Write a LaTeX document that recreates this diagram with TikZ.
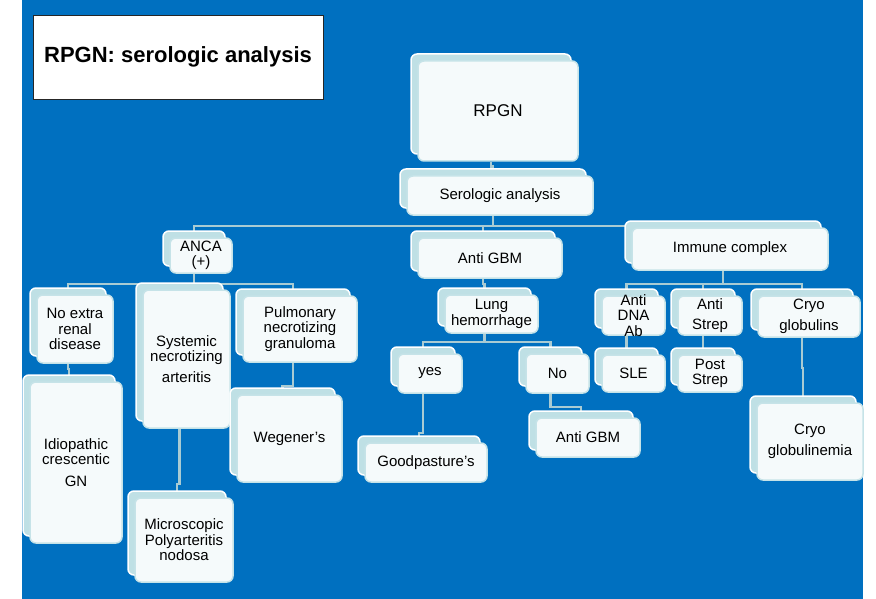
\documentclass[tikz,border=0pt]{standalone}
\usepackage{fontspec}
\setmainfont{Liberation Sans}
\usetikzlibrary{shadows,calc}
\definecolor{slidebg}{HTML}{0070C0}
\definecolor{boxfront}{HTML}{F5FAFB}
\definecolor{boxback}{HTML}{BFE0E5}
\definecolor{boxedge}{HTML}{C6E3E8}
\definecolor{connc}{HTML}{A9CBD3}
\pgfdeclarelayer{bg}
\pgfdeclarelayer{wires}
\pgfsetlayers{bg,wires,main}

\begin{document}
\begin{tikzpicture}[
  x=1pt, y=-1pt,
  box/.style={draw=boxedge, fill=boxfront, line width=1.5pt, rounded corners=6pt, align=center, inner sep=1pt, font=\fontsize{15}{15.5}\selectfont,
    copy shadow={shadow xshift=-7pt, shadow yshift=7pt, fill=boxback, draw=white, line width=1.5pt}},
  lbl/.style={align=center, inner sep=0pt, font=\fontsize{15}{15.5}\selectfont},
  conn/.style={draw=connc, line width=2.5pt},
]
\useasboundingbox (0,0) rectangle (876,599);

\begin{pgfonlayer}{bg}
\fill[white] (0,0) rectangle (876,599);
\fill[slidebg] (22,0) rectangle (863,599);
\end{pgfonlayer}

\node[draw=black!85, fill=white, line width=0.8pt, minimum width=290pt, minimum height=84pt, font=\fontsize{22}{24}\selectfont\bfseries] (title) at (178,57) {RPGN: serologic analysis};

% top
\node[box, minimum width=160pt, minimum height=100pt, font=\fontsize{17}{18}\selectfont] (rpgn) at (498,111) {RPGN};
\node[box, minimum width=186pt, minimum height=39pt] (sero) at (500,195.5) {Serologic analysis};
\node[box, minimum width=62pt, minimum height=35pt] (anca) at (201,255.5) {ANCA\\(+)};
\node[box, minimum width=144pt, minimum height=40pt] (antigbm) at (490,258) {Anti GBM};
\node[box, minimum width=196pt, minimum height=42pt] (immune) at (730,249) {Immune complex};

% ANCA branch
\node[box, minimum width=76pt, minimum height=68pt] (noext) at (75,329) {No extra\\renal\\disease};
\node[box, minimum width=87pt, minimum height=138pt] (systemic) at (186.5,359) {Systemic\\necrotizing\\[5pt]arteritis};
\node[box, minimum width=114pt, minimum height=66pt] (pulm) at (300,329) {Pulmonary\\necrotizing\\granuloma};
\node[box, minimum width=92pt, minimum height=161pt] (idio) at (76,462.5) {Idiopathic\\crescentic\\[6pt]GN};
\node[box, minimum width=105pt, minimum height=87pt] (wegener) at (289.5,438.5) {Wegener’s};
\node[box, minimum width=98pt, minimum height=84pt] (micro) at (184,540) {Microscopic\\Polyarteritis\\nodosa};

% anti GBM branch
\node[box, minimum width=93pt, minimum height=38pt] (lung) at (491.5,314) {Lung\\hemorrhage};
\node[box, minimum width=64pt, minimum height=39pt] (yes) at (430,373.5) {yes};
\node[box, minimum width=63pt, minimum height=39pt] (no) at (557.5,373.5) {No};
\node[box, minimum width=122pt, minimum height=39pt] (goodp) at (426,462.5) {Goodpasture’s};
\node[box, minimum width=104pt, minimum height=39pt] (antigbmb) at (588,437.5) {Anti GBM};

% immune complex branch
\node[box, minimum width=63pt, minimum height=39pt, label={[lbl]center:{Anti\\DNA\\Ab}}] (antidna) at (633.5,315.5) {};
\node[box, minimum width=64pt, minimum height=39pt] (antistrep) at (710,315.5) {Anti\\[5pt]Strep};
\node[box, minimum width=102pt, minimum height=41pt] (cryo) at (809,316.5) {Cryo\\[5pt]globulins};
\node[box, minimum width=63pt, minimum height=37pt] (sle) at (633.5,373.5) {SLE};
\node[box, minimum width=64pt, minimum height=37pt] (poststrep) at (710,373.5) {Post\\Strep};
\node[box, minimum width=106pt, minimum height=77pt] (cryoglob) at (810,441.5) {Cryo\\[6pt]globulinemia};

\begin{pgfonlayer}{wires}
\draw[conn] ([xshift=-7pt]rpgn.south) -- ++(0,5) -| ([xshift=-7pt]sero.north);
\draw[conn] ([xshift=-7pt]sero.south) -- ++(0,10) -| ([xshift=-7pt]anca.north);
\draw[conn] ([xshift=-7pt]sero.south) -- ++(0,10) -| ([xshift=-7pt]antigbm.north);
\draw[conn] ([xshift=-7pt]sero.south) -- ++(0,10) -| ([xshift=-7pt]immune.north);
\draw[conn] ([xshift=-7pt]anca.south) -- ++(0,10) -| ([xshift=-7pt]noext.north);
\draw[conn] ([xshift=-7pt]anca.south) -- ++(0,10) -| ([xshift=-7pt]systemic.north);
\draw[conn] ([xshift=-7pt]anca.south) -- ++(0,10) -| ([xshift=-7pt]pulm.north);
\draw[conn] ([xshift=-7pt]noext.south) -- ++(0,5) -| ([xshift=-7pt]idio.north);
\draw[conn] ([xshift=-7pt]systemic.south) -- ++(0,55) -| ([xshift=-7pt]micro.north);
\draw[conn] ([xshift=-7pt]pulm.south) -- ++(0,23) -| ([xshift=-7pt]wegener.north);
\draw[conn] ([xshift=-7pt]antigbm.south) -- ++(0,5) -| ([xshift=-7pt]lung.north);
\draw[conn] ([xshift=-7pt]lung.south) -- ++(0,8) -| ([xshift=-7pt]yes.north);
\draw[conn] ([xshift=-7pt]lung.south) -- ++(0,8) -| ([xshift=-7pt]no.north);
\draw[conn] ([xshift=-7pt]yes.south) -- ++(0,39) -| ([xshift=-7pt]goodp.north);
\draw[conn] ([xshift=-7pt]no.south) -- ++(0,13) -| ([xshift=-7pt]antigbmb.north);
\draw[conn] ([xshift=-7pt]immune.south) -- ++(0,13) -| ([xshift=-7pt]antidna.north);
\draw[conn] ([xshift=-7pt]immune.south) -- ++(0,13) -| ([xshift=-7pt]antistrep.north);
\draw[conn] ([xshift=-7pt]immune.south) -- ++(0,13) -| ([xshift=-7pt]cryo.north);
\draw[conn] ([xshift=-7pt]antidna.south) -- ++(0,5) -| ([xshift=-7pt]sle.north);
\draw[conn] ([xshift=-7pt]antistrep.south) -- ++(0,5) -| ([xshift=-7pt]poststrep.north);
\draw[conn] ([xshift=-7pt]cryo.south) -- ++(0,30) -| ([xshift=-7pt]cryoglob.north);
\end{pgfonlayer}

\end{tikzpicture}
\end{document}
